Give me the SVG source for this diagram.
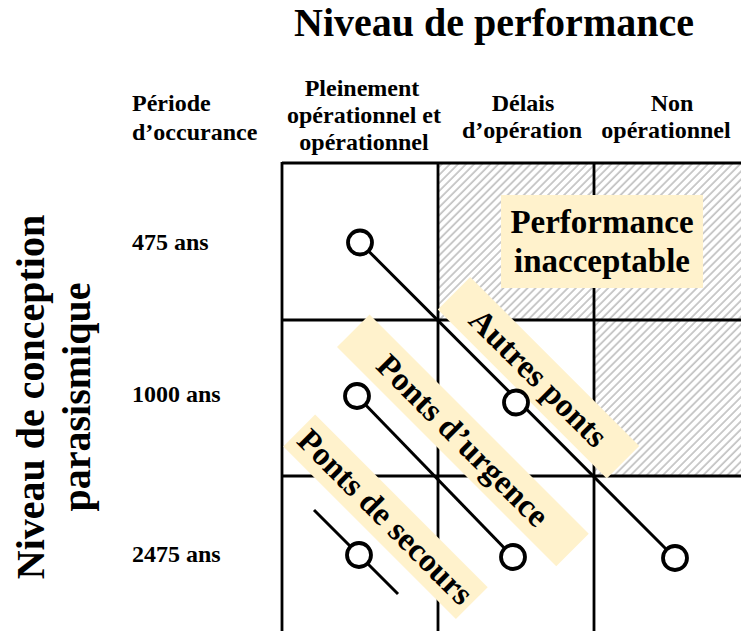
<svg xmlns="http://www.w3.org/2000/svg" width="741" height="631" viewBox="0 0 741 631">
<style>
text{font-family:"Liberation Serif","Times New Roman",serif;font-weight:bold;fill:#000}
.t40{font-size:40px}
.t24{font-size:24px}
.t33{font-size:33px}
.mid{text-anchor:middle}
.grid{stroke:#000;stroke-width:2.8;fill:none}
.band{fill:#FFF2CC}
.conn{stroke:#000;stroke-width:3;fill:none}
.pt{stroke:#000;stroke-width:3.8;fill:#fff}
</style>
<defs>
<pattern id="hatch" width="5.7" height="10" patternUnits="userSpaceOnUse" patternTransform="rotate(45)">
<rect width="5.7" height="10" fill="#fff"/>
<line x1="1" y1="0" x2="1" y2="10" stroke="#a0a0a0" stroke-width="1.1"/>
</pattern>
</defs>
<rect width="741" height="631" fill="#fff"/>
<g id="title">
<text class="t40 mid" x="494" y="36">Niveau de performance</text>
</g>
<g id="ytitle">
<text class="t40 mid" transform="translate(44,397) rotate(-90)">Niveau de conception</text>
<text class="t40 mid" transform="translate(90,397) rotate(-90)">parasismique</text>
</g>
<g id="headers">
<text class="t24" x="132" y="111">Période</text>
<text class="t24" x="132" y="140">d’occurance</text>
<text class="t24 mid" x="362" y="96">Pleinement</text>
<text class="t24 mid" x="364" y="123">opérationnel et</text>
<text class="t24 mid" x="364" y="150">opérationnel</text>
<text class="t24 mid" x="523" y="111">Délais</text>
<text class="t24 mid" x="522" y="138">d’opération</text>
<text class="t24 mid" x="672" y="111">Non</text>
<text class="t24 mid" x="666" y="138">opérationnel</text>
</g>
<g id="rows">
<text class="t24" x="132" y="250">475 ans</text>
<text class="t24" x="132" y="402">1000 ans</text>
<text class="t24" x="132" y="562">2475 ans</text>
</g>
<g id="grid">
<rect x="438" y="163" width="156" height="157" fill="url(#hatch)"/>
<rect x="594" y="163" width="147" height="157" fill="url(#hatch)"/>
<rect x="594" y="320" width="147" height="156" fill="url(#hatch)"/>
<line class="grid" x1="282" y1="163" x2="741" y2="163"/>
<line class="grid" x1="282" y1="320" x2="741" y2="320"/>
<line class="grid" x1="282" y1="476" x2="741" y2="476"/>
<line class="grid" x1="282" y1="162" x2="282" y2="631"/>
<line class="grid" x1="438" y1="162" x2="438" y2="631"/>
<line class="grid" x1="594" y1="162" x2="594" y2="631"/>
</g>
<g id="inacceptable">
<rect class="band" x="501" y="195" width="202" height="93"/>
<text class="t33 mid" x="602" y="233">Performance</text>
<text class="t33 mid" x="602" y="272">inacceptable</text>
</g>
<g id="connectors">
<line class="conn" x1="360" y1="242.5" x2="675" y2="558"/>
<line class="conn" x1="357" y1="396" x2="513" y2="557"/>
<line class="conn" x1="314" y1="510" x2="398" y2="594"/>
</g>
<g id="autres-ponts">
<rect class="band" transform="translate(538.5,377.8) rotate(45)" x="-119.5" y="-23" width="239" height="46"/>
<text class="t33 mid" transform="translate(538.5,377.8) rotate(45)" x="0" y="11">Autres ponts</text>
</g>
<g id="ponts-urgence">
<rect class="band" transform="translate(462.9,440.4) rotate(45)" x="-155" y="-23" width="310" height="46"/>
<text class="t33 mid" transform="translate(462.9,440.4) rotate(45)" x="0" y="11">Ponts d’urgence</text>
</g>
<g id="ponts-secours">
<rect class="band" transform="translate(385.5,516.8) rotate(45)" x="-122" y="-22.5" width="244" height="45"/>
<text class="t33 mid" transform="translate(385.5,516.8) rotate(45)" x="0" y="11">Ponts de secours</text>
</g>
<g id="points">
<circle class="pt" cx="360" cy="242.5" r="12"/>
<circle class="pt" cx="516" cy="402.5" r="12"/>
<circle class="pt" cx="675" cy="558" r="12"/>
<circle class="pt" cx="357" cy="396" r="12"/>
<circle class="pt" cx="513" cy="557" r="12"/>
<circle class="pt" cx="359" cy="555" r="12"/>
</g>
</svg>
